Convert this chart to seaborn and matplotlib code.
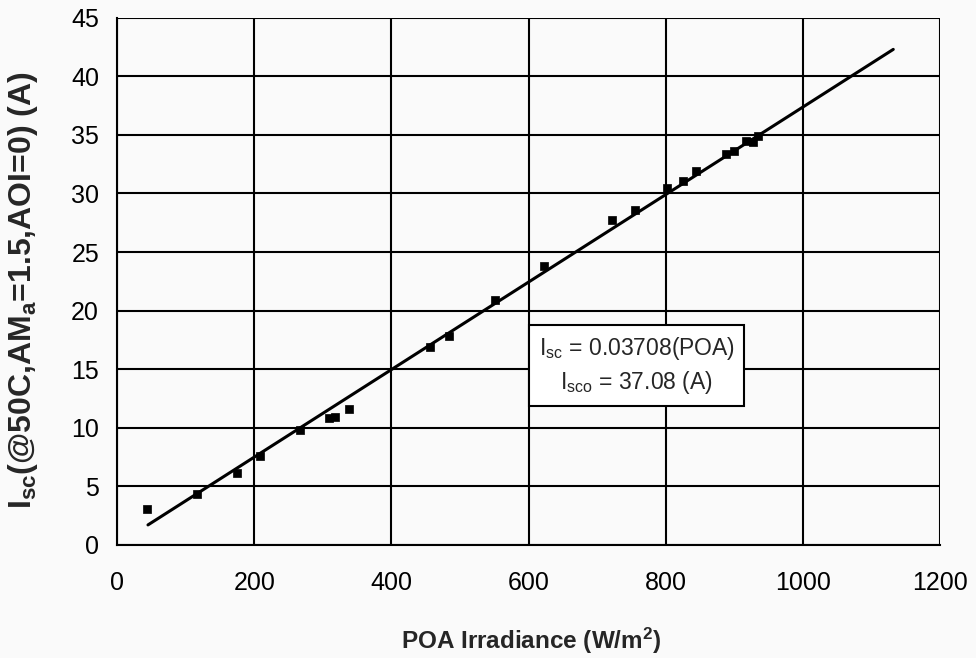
import matplotlib
matplotlib.use("Agg")
import matplotlib.pyplot as plt
from matplotlib.ticker import MultipleLocator
import seaborn as sns
import pandas as pd

sns.set_style("white")
plt.rcParams['font.family'] = ['Liberation Sans', 'DejaVu Sans']
plt.rcParams['mathtext.fontset'] = 'custom'
plt.rcParams['mathtext.rm'] = 'Liberation Sans'
plt.rcParams['mathtext.it'] = 'Liberation Sans'
plt.rcParams['mathtext.bf'] = 'Liberation Sans:bold'

poa = [44, 117, 175, 208, 267, 309, 318, 338, 456, 484, 551, 623,
       722, 755, 802, 826, 845, 888, 899, 917, 927, 934]
isc = [3.1, 4.3, 6.1, 7.6, 9.8, 10.8, 10.9, 11.6, 16.9, 17.8, 20.9, 23.8,
       27.7, 28.6, 30.5, 31.1, 31.9, 33.4, 33.6, 34.5, 34.4, 34.9]

# regression line end points
fit_x = [45, 1132]
fit_y = [1.7, 42.3]

df = pd.DataFrame({"poa": poa, "isc": isc})
fit = pd.DataFrame({"poa": fit_x, "isc": fit_y})

fig = plt.figure(figsize=(9.76, 6.58), dpi=100)
ax = fig.add_axes([0.12, 0.172, 0.843, 0.801])

sns.lineplot(data=fit, x="poa", y="isc", color="black", linewidth=2.2, ax=ax)
sns.scatterplot(data=df, x="poa", y="isc", color="black", marker="s", s=36,
                edgecolor="black", linewidth=0.5, ax=ax, zorder=3)

ax.set_xlim(0, 1200)
ax.set_ylim(0, 45)
ax.xaxis.set_major_locator(MultipleLocator(200))
ax.xaxis.set_minor_locator(MultipleLocator(100))
ax.yaxis.set_major_locator(MultipleLocator(5))
ax.yaxis.set_minor_locator(MultipleLocator(1))

ax.grid(True, which="major", color="black", linewidth=1.5)
for s in ["top", "right"]:
    ax.spines[s].set_visible(False)
for s in ["left", "bottom"]:
    ax.spines[s].set_color("black")
    ax.spines[s].set_linewidth(1.5)

ax.tick_params(which="major", direction="inout", length=12, width=1.3,
               labelsize=18, colors="black")
ax.tick_params(axis="x", which="major", pad=13)
ax.tick_params(axis="y", which="major", pad=7)
ax.tick_params(which="minor", direction="inout", length=9, width=1.1, colors="black")

ax.set_xlabel(r"POA Irradiance (W/m$^{\mathbf{2}}$)", fontsize=17.5,
              fontweight="bold")
ax.set_ylabel(r"I$_{\mathbf{sc}}$(@50C,AM$_{\mathbf{a}}$=1.5,AOI=0) (A)",
              fontsize=23, fontweight="bold")
ax.xaxis.set_label_coords(0.503, -0.154)
ax.yaxis.set_label_coords(-0.094, 0.484)

ax.text(758, 15.3, "I$_{\\rm sc}$ = 0.03708(POA)\nI$_{\\rm sco}$ = 37.08 (A)",
        fontsize=16.5, ha="center", va="center", linespacing=1.35,
        bbox=dict(boxstyle="square,pad=0.42", facecolor="white",
                  edgecolor="black", linewidth=1.5), zorder=4)

fig.patch.set_facecolor("#fafafa")
ax.set_facecolor("#fafafa")
fig.savefig("out.png", dpi=100, facecolor=fig.get_facecolor())
